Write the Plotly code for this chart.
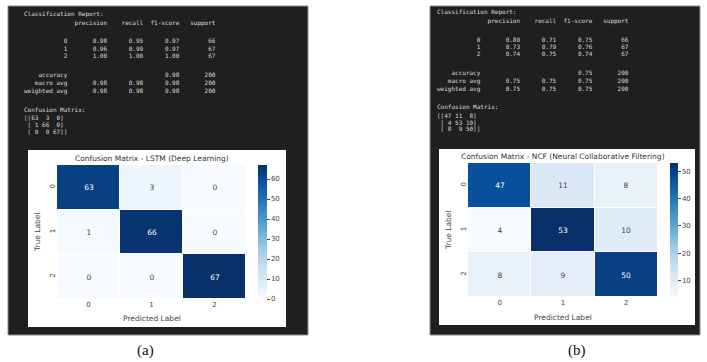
import plotly.graph_objects as go

W, H = 707, 362

# ---------------- data ----------------
class_labels = ["0", "1", "2"]

cm_lstm = [[63, 3, 0],
           [1, 66, 0],
           [0, 0, 67]]
cm_ncf = [[47, 11, 8],
          [4, 53, 10],
          [8, 9, 50]]

lstm_precision = [0.98, 0.96, 1.00]
lstm_recall = [0.95, 0.99, 1.00]
lstm_f1 = [0.97, 0.97, 1.00]
lstm_support = [66, 67, 67]
lstm_accuracy = 0.98
lstm_macro = [0.98, 0.98, 0.98]
lstm_weighted = [0.98, 0.98, 0.98]

ncf_precision = [0.80, 0.73, 0.74]
ncf_recall = [0.71, 0.79, 0.75]
ncf_f1 = [0.75, 0.76, 0.74]
ncf_support = [66, 67, 67]
ncf_accuracy = 0.75
ncf_macro = [0.75, 0.75, 0.75]
ncf_weighted = [0.75, 0.75, 0.75]

titles = ["Confusion Matrix - LSTM (Deep Learning)",
          "Confusion Matrix - NCF (Neural Collaborative Filtering)"]
captions = ["(a)", "(b)"]


def fx(px):
    return px / W


def fy(py):
    return 1 - py / H


def report_lines(prec, rec, f1, sup, acc, macro, weighted):
    total = sum(sup)
    lines = ["Classification Report:",
             "              precision    recall  f1-score   support"]
    rows = []
    for lab, p, r, f, s in zip(class_labels, prec, rec, f1, sup):
        rows.append(f"{lab:>12}{p:>11.2f}{r:>10.2f}{f:>10.2f}{s:>10d}")
    summ = [f"{'accuracy':>12}{'':>11}{'':>10}{acc:>10.2f}{total:>10d}",
            f"{'macro avg':>12}{macro[0]:>11.2f}{macro[1]:>10.2f}{macro[2]:>10.2f}{total:>10d}",
            f"{'weighted avg':>12}{weighted[0]:>11.2f}{weighted[1]:>10.2f}{weighted[2]:>10.2f}{total:>10d}"]
    return lines, rows, summ


def cm_lines(cm):
    out = []
    for i, row in enumerate(cm):
        body = " ".join(f"{v:>2d}" for v in row)
        pre = "[[" if i == 0 else " ["
        post = "]]" if i == len(cm) - 1 else "]"
        out.append(pre + body + post)
    return out


fig = go.Figure()

panels = [
    dict(cm=cm_lstm, zmin=0, zmax=67, dark=(8, 6, 308, 335), white=(28, 150, 286, 327),
         hm=(57, 165, 246, 299), cb_x=258, cb_th=9, text_x=22, text_dy=0,
         rep=report_lines(lstm_precision, lstm_recall, lstm_f1, lstm_support,
                          lstm_accuracy, lstm_macro, lstm_weighted),
         title_y=158, xt_y=318, yl_x=37, cap_x=145),
    dict(cm=cm_ncf, zmin=4, zmax=53, dark=(430, 6, 700, 335), white=(439, 149, 695, 325),
         hm=(468, 163, 658, 297), cb_x=670, cb_th=8, text_x=435, text_dy=-2,
         rep=report_lines(ncf_precision, ncf_recall, ncf_f1, ncf_support,
                          ncf_accuracy, ncf_macro, ncf_weighted),
         title_y=157, xt_y=317, yl_x=448, cap_x=577),
]

shapes = []
annotations = []
mono = "DejaVu Sans Mono"
sans = "DejaVu Sans"

for k, p in enumerate(panels):
    d = p["dark"]
    shapes.append(dict(type="rect", xref="paper", yref="paper",
                       x0=fx(d[0]), x1=fx(d[2]), y0=fy(d[3]), y1=fy(d[1]),
                       fillcolor="#1f1f1f", line=dict(color="#8c8c8c", width=1), layer="below"))
    wbox = p["white"]
    shapes.append(dict(type="rect", xref="paper", yref="paper",
                       x0=fx(wbox[0]), x1=fx(wbox[2]), y0=fy(wbox[3]), y1=fy(wbox[1]),
                       fillcolor="#ffffff", line=dict(width=0), layer="below"))

    # terminal text
    head, rows, summ = p["rep"]
    cml = cm_lines(p["cm"])
    dy = p["text_dy"]
    ys = [14.5, 23] + [41, 48, 55] + [75, 83, 91] + [109, 117, 124, 131]
    texts = head + rows + summ + ["Confusion Matrix:"] + cml
    for t, yy in zip(texts, ys):
        annotations.append(dict(xref="paper", yref="paper", x=fx(p["text_x"]), y=fy(yy + dy),
                                xanchor="left", yanchor="middle", showarrow=False,
                                text=t.replace(" ", "\u00a0"),
                                font=dict(family=mono, size=6, color="#dadada")))

    hm = p["hm"]
    xa = "x" if k == 0 else "x2"
    ya = "y" if k == 0 else "y2"
    fig.add_trace(go.Heatmap(
        z=p["cm"], x=class_labels, y=class_labels, colorscale="Blues",
        zmin=p["zmin"], zmax=p["zmax"], xgap=1, ygap=1,
        texttemplate="%{z}", textfont=dict(family=sans, size=7.5),
        xaxis=xa, yaxis=ya, hoverinfo="skip",
        colorbar=dict(x=fx(p["cb_x"]), xanchor="left", y=fy((hm[1] + hm[3]) / 2), yanchor="middle",
                      lenmode="pixels", len=hm[3] - hm[1], thickness=p["cb_th"],
                      thicknessmode="pixels", xpad=0, ypad=0, outlinewidth=0,
                      ticks="outside", ticklen=3, tickcolor="#444", tickwidth=1,
                      dtick=10, tickfont=dict(family=sans, size=7, color="#444")),
    ))
    axkw = dict(showgrid=False, zeroline=False, showline=False, ticks="",
                tickfont=dict(family=sans, size=7, color="#444"))
    fig.update_layout(**{
        ("xaxis" if k == 0 else "xaxis2"): dict(domain=[fx(hm[0]), fx(hm[2])], anchor=ya, **axkw),
        ("yaxis" if k == 0 else "yaxis2"): dict(domain=[fy(hm[3]), fy(hm[1])], anchor=xa,
                                                 autorange="reversed", tickangle=-90, **axkw),
    })

    cx = (hm[0] + hm[2]) / 2
    annotations.append(dict(xref="paper", yref="paper", x=fx(cx), y=fy(p["title_y"]),
                            xanchor="center", yanchor="middle", showarrow=False, text=titles[k],
                            font=dict(family=sans, size=7.5, color="#333")))
    annotations.append(dict(xref="paper", yref="paper", x=fx(cx), y=fy(p["xt_y"]),
                            xanchor="center", yanchor="middle", showarrow=False, text="Predicted Label",
                            font=dict(family=sans, size=7.5, color="#444")))
    annotations.append(dict(xref="paper", yref="paper", x=fx(p["yl_x"]), y=fy((hm[1] + hm[3]) / 2),
                            xanchor="center", yanchor="middle", showarrow=False, text="True Label",
                            textangle=-90, font=dict(family=sans, size=7.5, color="#444")))
    annotations.append(dict(xref="paper", yref="paper", x=fx(p["cap_x"]), y=fy(350),
                            xanchor="center", yanchor="middle", showarrow=False, text=captions[k],
                            font=dict(family="Liberation Serif", size=15, color="#111")))

fig.update_layout(width=W, height=H, margin=dict(l=0, r=0, t=0, b=0),
                  paper_bgcolor="white", plot_bgcolor="white",
                  shapes=shapes, annotations=annotations, showlegend=False)

fig.write_html("out.html")
